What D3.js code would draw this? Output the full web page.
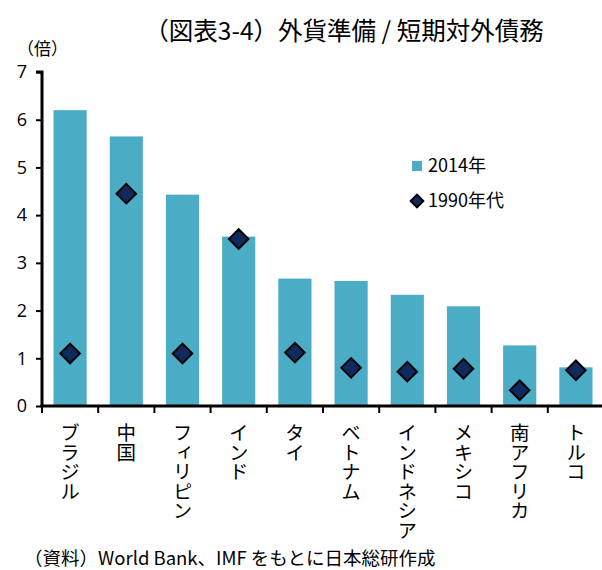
<!DOCTYPE html>
<html>
<head>
<meta charset="utf-8">
<script src="https://cdn.jsdelivr.net/npm/d3@7"></script>
<style>
  body { margin: 0; background: #fff; }
  svg { display: block; font-family: "Noto Sans CJK JP", "Noto Sans", sans-serif; }
</style>
</head>
<body>
<div id="chart"></div>
<script>
const countries = ["ブラジル", "中国", "フィリピン", "インド", "タイ", "ベトナム", "インドネシア", "メキシコ", "南アフリカ", "トルコ"];
const values2014 = [6.2, 5.65, 4.43, 3.55, 2.67, 2.62, 2.33, 2.09, 1.27, 0.81];
const values1990s = [1.1, 4.45, 1.1, 3.5, 1.12, 0.8, 0.72, 0.78, 0.33, 0.75];
const yTicks = [0, 1, 2, 3, 4, 5, 6, 7];

const width = 602, height = 570;
const margin = { left: 42, top: 72, bottom: 164 };
const barColor = "#4BACC6";
const diamondColor = "#0E2A5E";

const svg = d3.select("#chart").append("svg")
  .attr("width", width)
  .attr("height", height);

const x = d3.scaleBand()
  .domain(countries)
  .range([margin.left, margin.left + 562])
  .paddingInner(0.41)
  .paddingOuter(0.205);

const y = d3.scaleLinear()
  .domain([0, 7])
  .range([height - margin.bottom, margin.top]);

// bars
svg.append("g")
  .selectAll("rect")
  .data(countries)
  .join("rect")
  .attr("x", d => x(d))
  .attr("y", (d, i) => y(values2014[i]))
  .attr("width", x.bandwidth())
  .attr("height", (d, i) => y(0) - y(values2014[i]))
  .attr("fill", barColor);

// diamonds
const diamond = d3.symbol().type(d3.symbolSquare).size(190);
svg.append("g")
  .selectAll("path")
  .data(countries)
  .join("path")
  .attr("d", diamond)
  .attr("transform", (d, i) => `translate(${x(d) + x.bandwidth() / 2},${y(values1990s[i])}) rotate(45)`)
  .attr("fill", diamondColor)
  .attr("stroke", "#000")
  .attr("stroke-width", 2);

// y axis
const yAxis = svg.append("g")
  .attr("transform", `translate(${margin.left},0)`)
  .call(d3.axisLeft(y).tickValues(yTicks).tickSize(6).tickFormat(d3.format("d")));
yAxis.select(".domain").attr("stroke", "#000").attr("stroke-width", 3)
  .attr("d", `M-6,${y(7)}H0V${y(0)}`);
yAxis.selectAll(".tick line").attr("stroke-width", 2);
yAxis.selectAll(".tick text")
  .attr("x", -15)
  .attr("font-size", 18)
  .attr("fill", "#000")
  .attr("font-family", "'Open Sans', sans-serif");

// x axis
const step = x.step();
const boundaries = countries.map((d, i) => margin.left + i * step);
const xAxis = svg.append("g");
xAxis.append("line")
  .attr("x1", margin.left - 1.5).attr("x2", width)
  .attr("y1", y(0)).attr("y2", y(0))
  .attr("stroke", "#000").attr("stroke-width", 3);
xAxis.selectAll("line.tick")
  .data(boundaries)
  .join("line")
  .attr("class", "tick")
  .attr("x1", d => d).attr("x2", d => d)
  .attr("y1", y(0)).attr("y2", y(0) + 7)
  .attr("stroke", "#000").attr("stroke-width", 2);

xAxis.selectAll("text")
  .data(countries)
  .join("text")
  .attr("transform", d => `translate(${x(d) + x.bandwidth() / 2},${y(0) + 17})`)
  .attr("writing-mode", "tb")
  .attr("font-size", 19.5)
  .attr("fill", "#000")
  .text(d => d);

// title & labels
svg.append("text")
  .attr("x", 344).attr("y", 40)
  .attr("text-anchor", "middle")
  .attr("font-size", 24.5)
  .attr("fill", "#000")
  .text("（図表3-4）外貨準備 / 短期対外債務");

svg.append("text")
  .attr("x", 17).attr("y", 55)
  .attr("font-size", 17)
  .attr("fill", "#000")
  .text("（倍）");

svg.append("text")
  .attr("x", 24).attr("y", 565)
  .attr("font-size", 18.5)
  .attr("fill", "#000")
  .text("（資料）World Bank、IMF をもとに日本総研作成");

// legend
const legend = svg.append("g").attr("transform", "translate(412,166)");
legend.append("rect")
  .attr("x", 0).attr("y", -5).attr("width", 10).attr("height", 10)
  .attr("fill", barColor);
legend.append("text")
  .attr("x", 16).attr("y", 6)
  .attr("font-size", 18).attr("fill", "#000")
  .text("2014年");
legend.append("path")
  .attr("d", d3.symbol().type(d3.symbolSquare).size(80))
  .attr("transform", "translate(5,35) rotate(45)")
  .attr("fill", diamondColor)
  .attr("stroke", "#000")
  .attr("stroke-width", 2);
legend.append("text")
  .attr("x", 16).attr("y", 41)
  .attr("font-size", 18).attr("fill", "#000")
  .text("1990年代");
</script>
</body>
</html>
